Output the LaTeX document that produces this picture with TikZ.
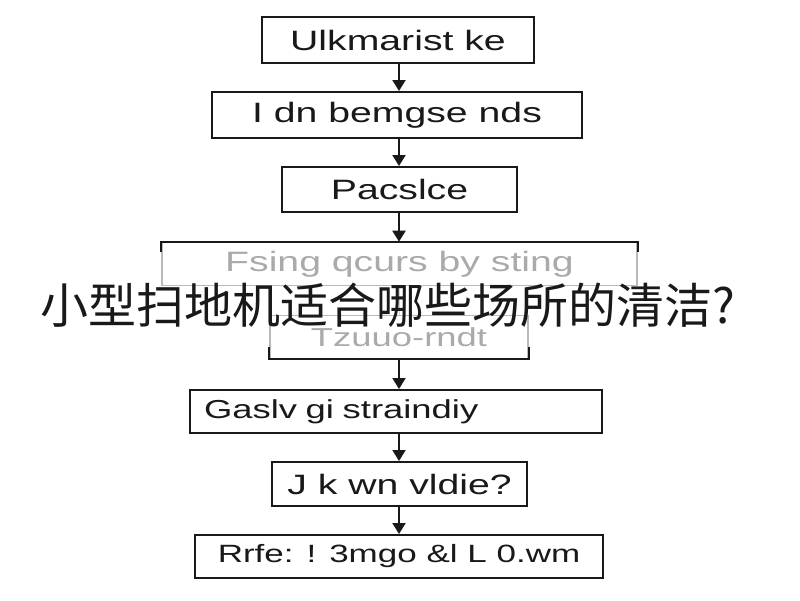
\documentclass[tikz,border=0pt]{standalone}
\usepackage{fontspec}
\newfontfamily\boxfont[FakeStretch=1.4]{Liberation Sans}
\newfontfamily\cjk{Noto Sans CJK SC}
\usetikzlibrary{arrows.meta}
\definecolor{fadegray}{RGB}{185,185,185}
\definecolor{fadetext}{RGB}{170,170,170}
\definecolor{inkblack}{RGB}{25,25,25}
\tikzset{
  flowbox/.style={draw=inkblack, line width=2pt, rectangle, inner sep=0pt,
    font=\boxfont\fontsize{28}{30}\selectfont, text=inkblack},
  fadebox/.style={draw=fadegray, line width=1.6pt, rectangle, inner sep=0pt,
    font=\boxfont\fontsize{28}{30}\selectfont, text=fadetext},
  flowarrow/.style={draw=inkblack, line width=2pt, -{Triangle[length=11pt,width=13pt]}},
  fadearrow/.style={draw=fadegray!60, line width=1pt},
  bracket/.style={draw=inkblack, line width=2pt}
}
\begin{document}
\begin{tikzpicture}[x=1pt,y=-1pt]
\useasboundingbox[fill=white] (0,0) rectangle (800,600);
\coordinate (mid) at (399,0);

\node[flowbox, minimum width=272pt, minimum height=46pt] (b1) at (398,40) {Ulkmarist ke};
\node[flowbox, minimum width=370pt, minimum height=46pt] (b2) at (397,115) {I dn bemgse nds};
\node[flowbox, minimum width=235pt, minimum height=45pt] (b3) at (399.5,189.5) {Pacslce};
\node[fadebox, minimum width=475pt, minimum height=43pt] (b4) at (399.5,264) {Fsing qcurs by sting};
\node[fadebox, minimum width=258pt, minimum height=43pt, font=\boxfont\fontsize{26}{30}\selectfont] (b5) at (399,337) {Tzuuo-rndt};
\node[flowbox, minimum width=412pt, minimum height=43pt, text width=384pt, align=left, font=\boxfont\fontsize{26}{30}\selectfont] (b6) at (396,411.5) {Gaslv gi straindiy};
\node[flowbox, minimum width=255pt, minimum height=44pt] (b7) at (399.5,484) {J k wn vldie?};
\node[flowbox, minimum width=408pt, minimum height=43pt, font=\boxfont\fontsize{25}{30}\selectfont] (b8) at (399,556.5) {Rrfe: ! 3mgo \&l L 0.wm};

% black bracket on top of the faded box 4
\draw[bracket] ([yshift=-10pt]b4.north west) -- (b4.north west) -- (b4.north east) -- ([yshift=-10pt]b4.north east);
% black bracket under the faded box 5
\draw[bracket] ([yshift=12pt]b5.south west) -- (b5.south west) -- (b5.south east) -- ([yshift=12pt]b5.south east);

\draw[flowarrow] (b1.south -| mid) -- (b2.north -| mid);
\draw[flowarrow] (b2.south -| mid) -- (b3.north -| mid);
\draw[flowarrow] (b3.south -| mid) -- (b4.north -| mid);
\draw[fadearrow] (b4.south -| mid) -- (b5.north -| mid);
\draw[flowarrow] (b5.south -| mid) -- (b6.north -| mid);
\draw[flowarrow] (b6.south -| mid) -- (b7.north -| mid);
\draw[flowarrow] (b7.south -| mid) -- (b8.north -| mid);

\node[anchor=west, inner sep=0pt, text=inkblack, font=\cjk\fontsize{48}{50}\selectfont] (title) at (40,305) {小型扫地机适合哪些场所的清洁?};
\end{tikzpicture}
\end{document}
